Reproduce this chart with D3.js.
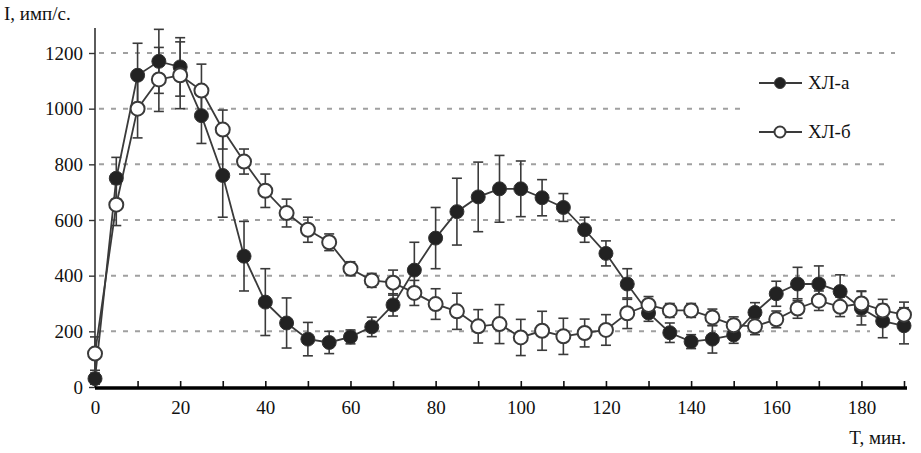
<!DOCTYPE html>
<html><head><meta charset="utf-8">
<script src="https://cdn.jsdelivr.net/npm/d3@7"></script>
<style>
body{margin:0;background:#fff;}
svg text{font-family:'Liberation Serif','DejaVu Serif',serif !important;fill:#111;}
</style></head>
<body><svg id="c" width="921" height="453"></svg>
<script>
const times = d3.range(0, 191, 5);
const seriesA = [30,750,1120,1170,1150,975,760,470,305,230,172,160,180,216,295,420,535,630,683,712,712,680,645,565,480,370,266,195,163,172,187,268,335,370,370,343,283,237,220];
const errA    = [20,75,115,115,105,100,150,125,120,90,60,40,25,35,40,100,110,120,125,120,100,65,50,45,45,55,30,35,25,50,30,35,45,60,65,60,60,60,65];
const seriesB = [120,655,1000,1105,1120,1065,925,810,705,625,565,520,425,383,375,338,298,272,218,226,178,202,182,194,205,265,295,275,275,250,222,218,243,282,310,288,300,275,260];
const errB    = [60,75,105,115,120,95,70,45,60,50,45,30,25,25,45,45,55,65,60,70,65,70,65,50,55,55,30,25,25,30,30,30,30,35,35,35,45,40,45];
const yTicks = [0,200,400,600,800,1000,1200];
const xTicks = d3.range(0, 191, 10);
const xLabels = [0,20,40,60,80,100,120,140,160,180];
const seriesNames = ["ХЛ-а","ХЛ-б"];
const yTitle = "I, имп/с.";
const xTitle = "T, мин.";
const FONT = "'Liberation Serif','DejaVu Serif',serif";

const svg = d3.select("#c");
const x = d3.scaleLinear().domain([0,190]).range([95,904]);
const y = d3.scaleLinear().domain([0,1200]).range([387,53]);

// grid
const gridEnd = {200:870,400:895,600:895,800:887,1000:742,1200:895};
svg.append("g").selectAll("line").data(yTicks.filter(d=>d>0)).join("line")
  .attr("x1",x(0)+4).attr("x2",d=>gridEnd[d])
  .attr("y1",d=>y(d)).attr("y2",d=>y(d))
  .attr("stroke","#a0a0a0").attr("stroke-width",2).attr("stroke-dasharray","5,7");

// y axis
const yAxis = d3.axisLeft(y).tickValues(yTicks).tickSize(6).tickPadding(6).tickSizeOuter(0);
const gy = svg.append("g").attr("transform",`translate(${x(0)},0)`).call(yAxis).attr("font-family",FONT);
gy.select(".domain").remove();
gy.append("line").attr("x1",0).attr("x2",0).attr("y1",y(0)).attr("y2",y(1290))
  .attr("stroke","#333").attr("stroke-width",1.6);
gy.selectAll(".tick line").attr("stroke","#333").attr("stroke-width",1.4);
gy.selectAll(".tick text").attr("font-size",19).attr("fill","#111").style("font-family",FONT).text(d=>d);

// x axis
const xAxis = d3.axisBottom(x).tickValues(xTicks).tickSize(-6).tickPadding(14).tickSizeOuter(0)
  .tickFormat(d=>xLabels.includes(d)?d:"");
const gx = svg.append("g").attr("transform",`translate(0,${y(0)})`).call(xAxis).attr("font-family",FONT);
gx.select(".domain").remove();
gx.append("line").attr("x1",x(0)).attr("x2",x(190)+3).attr("y1",1).attr("y2",1)
  .attr("stroke","#000").attr("stroke-width",3.5);
gx.selectAll(".tick line").attr("stroke","#111").attr("stroke-width",1.6);
gx.selectAll(".tick text").attr("font-size",19).attr("fill","#111").style("font-family",FONT);

// titles
svg.append("text").attr("x",4).attr("y",20).attr("font-size",19).style("font-family",FONT).text(yTitle);
svg.append("text").attr("x",906).attr("y",444).attr("text-anchor","end").attr("font-size",19).style("font-family",FONT).text(xTitle);

const dataA = times.map((t,i)=>({t,v:seriesA[i],e:errA[i]}));
const dataB = times.map((t,i)=>({t,v:seriesB[i],e:errB[i]}));

function errorBars(data){
  const g = svg.append("g").attr("stroke","#3a3a3a").attr("stroke-width",1.6);
  data.forEach(d=>{
    if(!d.e) return;
    g.append("line").attr("x1",x(d.t)).attr("x2",x(d.t)).attr("y1",y(d.v-d.e)).attr("y2",y(d.v+d.e));
    [d.v-d.e,d.v+d.e].forEach(v=>g.append("line").attr("x1",x(d.t)-5).attr("x2",x(d.t)+5).attr("y1",y(v)).attr("y2",y(v)));
  });
}
errorBars(dataA);
errorBars(dataB);

const line = d3.line().x(d=>x(d.t)).y(d=>y(d.v));
svg.append("path").datum(dataA).attr("d",line).attr("fill","none").attr("stroke","#3a3a3a").attr("stroke-width",1.8);
svg.append("path").datum(dataB).attr("d",line).attr("fill","none").attr("stroke","#3a3a3a").attr("stroke-width",1.8);

svg.append("g").selectAll("circle").data(dataA).join("circle")
  .attr("cx",d=>x(d.t)).attr("cy",d=>y(d.v)).attr("r",7)
  .attr("fill","#222").attr("stroke","#333").attr("stroke-width",1);
svg.append("g").selectAll("circle").data(dataB).join("circle")
  .attr("cx",d=>x(d.t)).attr("cy",d=>y(d.v)).attr("r",7)
  .attr("fill","#fff").attr("stroke","#3a3a3a").attr("stroke-width",2);

// legend
const leg = [{n:seriesNames[0],f:"#222",y:83},{n:seriesNames[1],f:"#fff",y:132}];
leg.forEach(l=>{
  svg.append("line").attr("x1",759).attr("x2",802).attr("y1",l.y).attr("y2",l.y)
    .attr("stroke","#3a3a3a").attr("stroke-width",1.8);
  svg.append("circle").attr("cx",780).attr("cy",l.y).attr("r",5.5)
    .attr("fill",l.f).attr("stroke","#3a3a3a").attr("stroke-width",l.f==="#fff"?2:1);
  svg.append("text").attr("x",808).attr("y",l.y+6).attr("font-size",19).style("font-family",FONT).text(l.n);
});
</script></body></html>
